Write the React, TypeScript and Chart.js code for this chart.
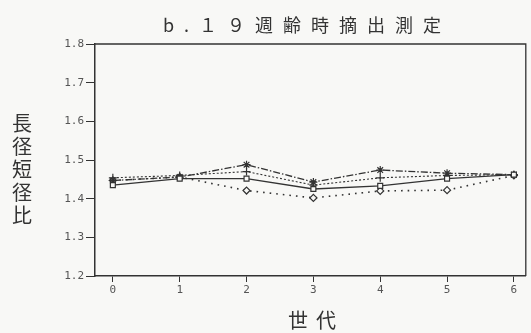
import React, { useEffect, useRef } from "react";
import { Chart, registerables } from "chart.js";

Chart.register(...registerables);

// Generation index on the x axis
const generations = [0, 1, 2, 3, 4, 5, 6];

// Long/short diameter ratio per generation, one list per line group
const solidSquare = [1.435, 1.452, 1.452, 1.425, 1.433, 1.452, 1.462];
const dashDotStar = [1.447, 1.456, 1.488, 1.443, 1.474, 1.466, 1.462];
const finePlus = [1.454, 1.46, 1.47, 1.435, 1.454, 1.46, 1.462];
const dottedDiamond = [1.447, 1.456, 1.421, 1.402, 1.42, 1.422, 1.46];

const yTicks = [1.2, 1.3, 1.4, 1.5, 1.6, 1.7, 1.8];

const titleText = "b.１９週齢時摘出測定";
const yTitleChars = ["長", "径", "短", "径", "比"];
const xTitleText = "世代";

const INK = "#333333";
const TICK_INK = "#555555";
const PAPER = "#f8f8f6";
const MONO = '"DejaVu Sans Mono", "Liberation Mono", monospace';
const CJK = '"Noto Sans CJK JP", "Noto Sans CJK SC", sans-serif';

const paperPlugin = {
  id: "paperAndLabels",
  beforeDraw(chart: Chart) {
    const ctx = chart.ctx;
    ctx.save();
    ctx.fillStyle = PAPER;
    ctx.fillRect(0, 0, chart.width, chart.height);
    ctx.restore();
  },
  afterDraw(chart: Chart) {
    const { ctx, chartArea } = chart;
    ctx.save();
    // frame around the plot area (top and right edges)
    ctx.strokeStyle = INK;
    ctx.lineWidth = 1.3;
    ctx.beginPath();
    ctx.moveTo(chartArea.left, chartArea.top);
    ctx.lineTo(chartArea.right, chartArea.top);
    ctx.lineTo(chartArea.right, chartArea.bottom);
    ctx.stroke();

    ctx.fillStyle = INK;
    ctx.textBaseline = "middle";

    // title
    ctx.font = `18px ${CJK}`;
    (ctx as any).letterSpacing = "10px";
    ctx.textAlign = "left";
    ctx.fillText(titleText, 163, 25);

    // x axis title
    ctx.font = `20px ${CJK}`;
    (ctx as any).letterSpacing = "8px";
    ctx.textAlign = "left";
    ctx.fillText(xTitleText, 288, 320);

    // vertical y axis title, one upright character per row
    (ctx as any).letterSpacing = "0px";
    ctx.textAlign = "center";
    ctx.font = `20px ${CJK}`;
    yTitleChars.forEach((ch, i) => {
      ctx.fillText(ch, 22, 123 + i * 23);
    });
    ctx.restore();
  },
};

export default function App() {
  const canvasRef = useRef<HTMLCanvasElement | null>(null);

  useEffect(() => {
    const canvas = canvasRef.current;
    if (!canvas) return;

    const toPoints = (vals: number[]) =>
      generations.map((g, i) => ({ x: g, y: vals[i] }));

    const common = {
      borderColor: INK,
      pointBorderColor: INK,
      pointBackgroundColor: PAPER,
      pointBorderWidth: 1.2,
      tension: 0,
      fill: false,
    };

    const chart = new Chart(canvas, {
      type: "line",
      data: {
        datasets: [
          {
            ...common,
            label: "solid",
            data: toPoints(solidSquare),
            borderWidth: 1.3,
            pointStyle: "rect",
            pointRadius: 3.5,
          },
          {
            ...common,
            label: "dash-dot",
            data: toPoints(dashDotStar),
            borderWidth: 1.3,
            borderDash: [7, 2, 1.5, 2],
            pointStyle: "star",
            pointRadius: 4,
          },
          {
            ...common,
            label: "fine",
            data: toPoints(finePlus),
            borderWidth: 1.1,
            borderDash: [2, 2],
            pointStyle: "cross",
            pointRadius: 4,
          },
          {
            ...common,
            label: "dotted",
            data: toPoints(dottedDiamond),
            borderWidth: 1.6,
            borderDash: [1.6, 5],
            pointStyle: "rectRot",
            pointRadius: 3.5,
          },
        ],
      },
      options: {
        animation: false,
        responsive: false,
        maintainAspectRatio: false,
        layout: { padding: { top: 44, right: 1, left: 0, bottom: 0 } },
        plugins: {
          legend: { display: false },
          title: { display: false },
          tooltip: { enabled: false },
        },
        scales: {
          x: {
            type: "linear",
            min: -0.267,
            max: 6.178,
            afterBuildTicks(scale: any) {
              scale.ticks = generations.map((v) => ({ value: v }));
            },
            afterFit(scale: any) {
              scale.height = 57;
            },
            grid: {
              drawOnChartArea: false,
              drawTicks: true,
              tickLength: 6,
              color: INK,
            },
            border: { color: INK, width: 1.5 },
            ticks: {
              color: TICK_INK,
              padding: 2,
              font: { family: MONO, size: 11 },
              callback: (v: any) => String(v),
            },
          },
          y: {
            type: "linear",
            min: 1.2,
            max: 1.8,
            afterBuildTicks(scale: any) {
              scale.ticks = yTicks.map((v) => ({ value: v }));
            },
            afterFit(scale: any) {
              scale.width = 95;
            },
            grid: {
              drawOnChartArea: false,
              drawTicks: true,
              tickLength: 9,
              color: INK,
            },
            border: { color: INK, width: 1.5 },
            ticks: {
              color: TICK_INK,
              padding: 2,
              font: { family: MONO, size: 11 },
              callback: (v: any) => Number(v).toFixed(1),
            },
          },
        },
      },
      plugins: [paperPlugin],
    });

    return () => chart.destroy();
  }, []);

  return (
    <div style={{ position: "absolute", left: 0, top: 0, width: 531, height: 333 }}>
      <canvas ref={canvasRef} width={531} height={333} />
    </div>
  );
}
